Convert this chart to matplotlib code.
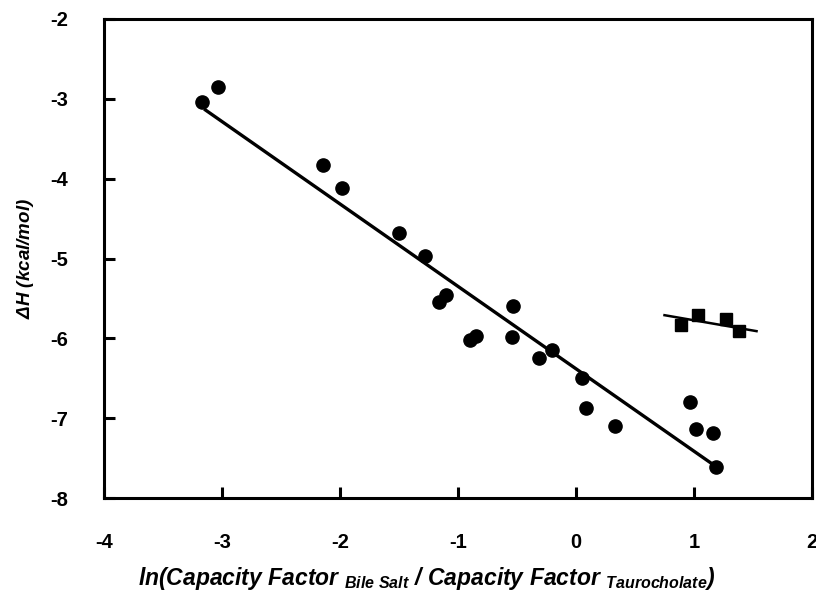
import matplotlib
matplotlib.use('Agg')
import matplotlib.pyplot as plt
import numpy as np

plt.rcParams['font.family'] = 'Liberation Sans'
plt.rcParams['axes.unicode_minus'] = False
plt.rcParams['mathtext.fontset'] = 'custom'
plt.rcParams['mathtext.rm'] = 'Liberation Sans:bold:italic'
plt.rcParams['mathtext.it'] = 'Liberation Sans:bold:italic'

# bile salts (circles)
x_circ = [-3.17, -3.03, -2.14, -1.98, -1.50, -1.28, -1.16, -1.10, -0.90, -0.85,
          -0.53, -0.54, -0.31, -0.20, 0.05, 0.085, 0.33, 0.97, 1.02, 1.16, 1.19]
y_circ = [-3.04, -2.85, -3.83, -4.12, -4.68, -4.97, -5.55, -5.46, -6.02, -5.97,
          -5.60, -5.98, -6.25, -6.14, -6.50, -6.87, -7.10, -6.80, -7.14, -7.18, -7.61]
line_circ_x = [-3.14, 1.19]
line_circ_y = [-3.14, -7.61]

# squares
x_sq = [0.89, 1.03, 1.27, 1.38]
y_sq = [-5.83, -5.71, -5.76, -5.91]
line_sq_x = [0.75, 1.53]
line_sq_y = [-5.71, -5.91]

fig = plt.figure(figsize=(8.16, 6.06), dpi=100)
ax = fig.add_axes([104/816, 1 - 498/606, 708/816, 479/606])

ax.plot(line_circ_x, line_circ_y, color='black', lw=2.4)
ax.plot(x_circ, y_circ, 'o', color='black', ms=9.5)
ax.plot(line_sq_x, line_sq_y, color='black', lw=1.8)
ax.plot(x_sq, y_sq, 's', color='black', ms=8)

ax.set_xlim(-4, 2)
ax.set_ylim(-8, -2)
ax.set_xticks(np.arange(-4, 3, 1))
ax.set_yticks(np.arange(-8, -1, 1))
for s in ['top', 'right', 'left', 'bottom']:
    ax.spines[s].set_linewidth(2.2)
ax.tick_params(axis='both', direction='in', length=8, width=2.2,
               labelsize=14.5, top=False, right=False)
ax.tick_params(axis='x', pad=25)
ax.tick_params(axis='y', pad=26)
for lab in ax.get_xticklabels() + ax.get_yticklabels():
    lab.set_fontweight('bold')

ax.set_ylabel(r'$\Delta$H (kcal/mol)', fontsize=13.5, fontweight='bold',
              fontstyle='italic', labelpad=10)
fig.text(0.523, 0.045,
         r'ln(Capacity Factor $_{Bile\ Salt}$ / Capacity Factor $_{Taurocholate}$)',
         ha='center', va='center', fontsize=16.5, fontweight='bold', fontstyle='italic')

fig.savefig('out.png', dpi=100)
